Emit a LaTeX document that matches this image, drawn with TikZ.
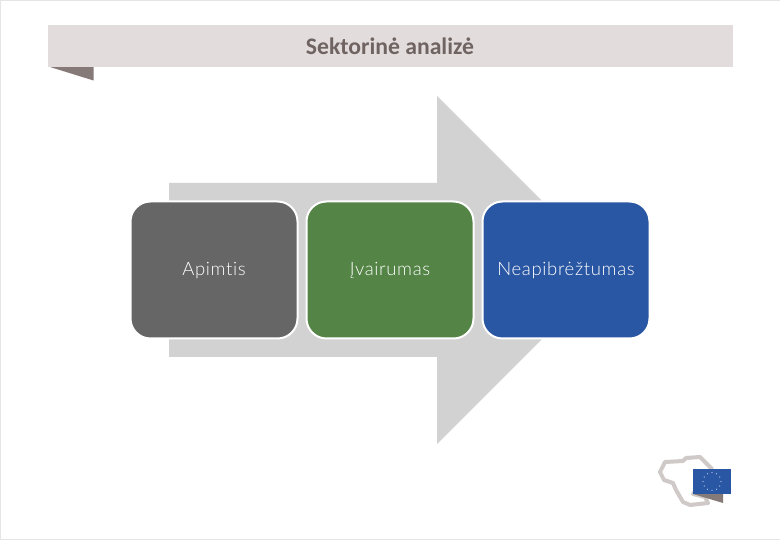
\documentclass[tikz,border=0pt]{standalone}
\usepackage{fontspec}
\setmainfont{Carlito}
\newfontfamily\cardfont[Ligatures=NoCommon,LetterSpace=3.5]{Lato Light}
\definecolor{banner}{HTML}{E2DDDC}
\definecolor{bannerdark}{HTML}{857A78}
\definecolor{titletext}{HTML}{6F6462}
\definecolor{arrowgrey}{HTML}{D2D2D2}
\definecolor{boxgrey}{HTML}{666666}
\definecolor{boxgreen}{HTML}{548446}
\definecolor{boxblue}{HTML}{2A57A3}
\definecolor{flagblue}{HTML}{2A57A3}
\definecolor{outline}{HTML}{CFC9C7}
\tikzset{
  card/.style={draw=white,line width=2pt,rounded corners=20pt,minimum width=167pt,minimum height=137pt,inner sep=0pt,text=white,text height=16pt,text depth=4pt,font=\cardfont\fontsize{18.5}{22}\selectfont},
  titlelabel/.style={text=titletext,font=\fontsize{23.7}{26}\selectfont\bfseries,inner sep=0pt},
}
\begin{document}
\begin{tikzpicture}[x=1pt,y=-1pt]
\useasboundingbox (0,0) rectangle (780,540);
\fill[white] (0,0) rectangle (780,540);
\draw[black!10,line width=1.4pt] (780,0.5) -- (0.7,0.5) -- (0.7,539.2) -- (780,539.2);
% banner
\fill[bannerdark] (50,67) -- (93.5,67) -- (93.5,80.5) -- cycle;
\fill[banner] (48,25) rectangle (733,67);
\node[titlelabel] (title) at (390,46) {Sektorinė analizė};
% arrow
\fill[arrowgrey] (169,183) -- (437,183) -- (437,96) -- (611,270) -- (437,444) -- (437,357) -- (169,357) -- cycle;
% cards
\node[card,fill=boxgrey] (a) at (214,270) {Apimtis};
\node[card,fill=boxgreen] (b) at (390,270) {Įvairumas};
\node[card,fill=boxblue] (c) at (566,270) {Neapibrėžtumas};
% logo
\draw[outline,line width=4pt,line join=round] (660,472) -- (665,462) -- (683,461) -- (686,458) -- (700,457) -- (712,469) -- (693,494) -- (705,497) -- (708,503) -- (690,505) -- (683,502) -- (676,490) -- (673,483) -- (664,480) -- cycle;
\fill[bannerdark] (693,494) -- (723,494) -- (723,503) -- cycle;
\fill[flagblue] (693,469) rectangle (731,494);
\foreach \k in {0,30,...,330}
  \fill[white!70!flagblue] ({712+9*sin(\k)},{481.5-9*cos(\k)}) circle (0.6pt);
\end{tikzpicture}
\end{document}
